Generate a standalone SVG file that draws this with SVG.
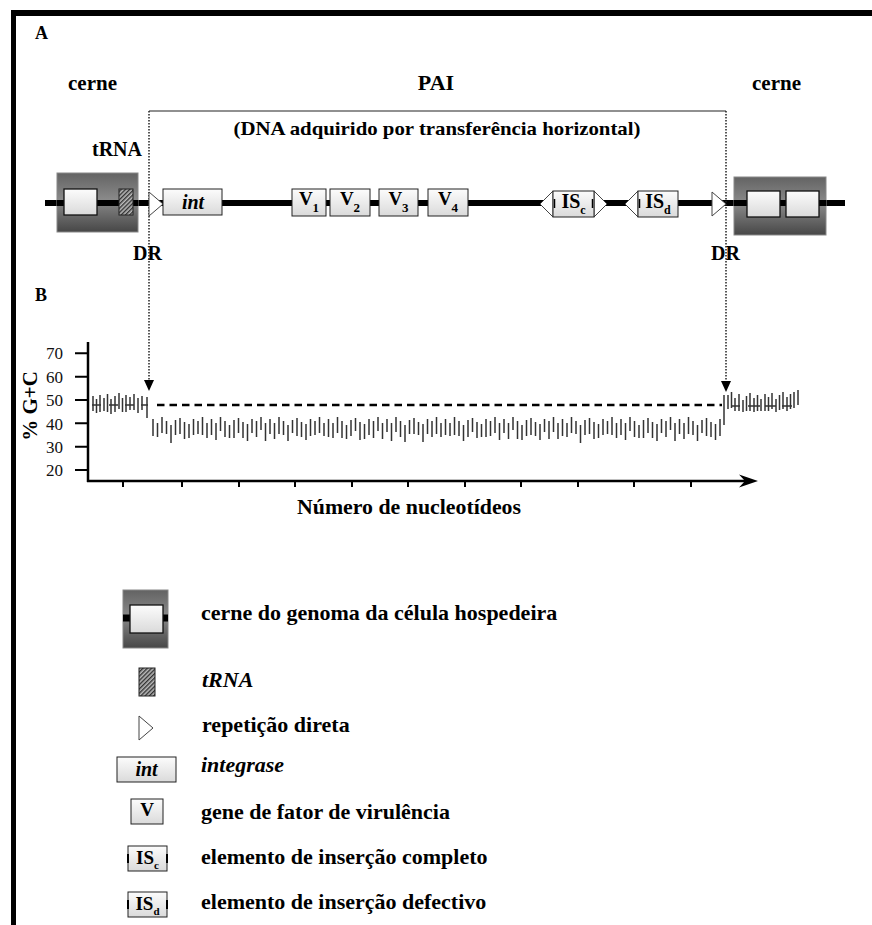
<svg xmlns="http://www.w3.org/2000/svg" width="872" height="925" viewBox="0 0 872 925">
<defs>
<linearGradient id="gHost" x1="0" y1="0" x2="0" y2="1">
<stop offset="0" stop-color="#636363"/><stop offset="0.45" stop-color="#8a8a8a"/><stop offset="1" stop-color="#474747"/>
</linearGradient>
<linearGradient id="gGene" x1="0" y1="0" x2="0" y2="1">
<stop offset="0" stop-color="#fcfcfc"/><stop offset="1" stop-color="#dadada"/>
</linearGradient>
<pattern id="hatch" width="3" height="3" patternUnits="userSpaceOnUse" patternTransform="rotate(45)">
<rect width="3" height="3" fill="#bbb"/><rect width="1.4" height="3" fill="#333"/>
</pattern>
<style>
.t{font-family:"Liberation Serif","Times New Roman",serif;font-weight:bold;fill:#000}
.n{font-family:"Liberation Serif","Times New Roman",serif;font-weight:normal;fill:#111}
.host{fill:url(#gHost);stroke:#888;stroke-width:1}
.inner{fill:url(#gGene);stroke:#111;stroke-width:1.3}
.gene{fill:url(#gGene);stroke:#222;stroke-width:1}
.tri{fill:#fff;stroke:#444;stroke-width:1}
.trna{fill:url(#hatch);stroke:#222;stroke-width:1}
.dot{fill:none;stroke:#222;stroke-width:1.5;stroke-dasharray:1.5 1.5}
.dna{stroke:#000;stroke-width:6}
</style>
</defs>
<rect width="872" height="925" fill="#fff"/>
<rect x="11" y="10" width="861" height="6" fill="#000"/>
<rect x="11" y="10" width="5" height="915" fill="#000"/>

<text class="t" x="35" y="39" font-size="18">A</text>
<text class="t" x="68" y="90" font-size="21">cerne</text>
<text class="t" x="436" y="90" font-size="22" text-anchor="middle">PAI</text>
<text class="t" x="752" y="90" font-size="21">cerne</text>
<text class="t" x="437" y="135" font-size="19" text-anchor="middle" textLength="407" lengthAdjust="spacingAndGlyphs">(DNA adquirido por transferência horizontal)</text>
<text class="t" x="92" y="156" font-size="20">tRNA</text>
<text class="t" x="133" y="260" font-size="20">DR</text>
<text class="t" x="711" y="260" font-size="20">DR</text>

<g id="connectors">
<line class="dna" x1="45" y1="203" x2="845" y2="203"/>
<polyline points="149,111 726,111" fill="none" stroke="#222" stroke-width="1.2"/>
<line class="dot" x1="149" y1="111" x2="149" y2="382"/>
<line class="dot" x1="726" y1="111" x2="726" y2="382"/>
<polygon points="144,380 154,380 149,391" fill="#000"/>
<polygon points="721,381 731,381 726,392" fill="#000"/>
</g>

<g id="host-left">
<rect class="host" x="57" y="173" width="81" height="59"/>
<line class="dna" x1="57" y1="203" x2="138" y2="203"/>
<rect class="inner" x="64" y="189" width="33" height="26"/>
<rect class="trna" x="119" y="189" width="14" height="26"/>
</g>
<g id="dr-left"><polygon class="tri" points="149,192 163,204 149,216"/></g>
<g id="int">
<rect class="gene" x="163" y="189" width="59" height="26"/>
<text class="t" x="193" y="209" font-size="20" font-style="italic" text-anchor="middle">int</text>
</g>
<g id="v1"><rect class="gene" x="292" y="189" width="34" height="27"/><text class="t" x="309" y="205" font-size="19" text-anchor="middle">V<tspan font-size="13" dy="7">1</tspan></text></g>
<g id="v2"><rect class="gene" x="330" y="189" width="40" height="27"/><text class="t" x="350" y="205" font-size="19" text-anchor="middle">V<tspan font-size="13" dy="7">2</tspan></text></g>
<g id="v3"><rect class="gene" x="379" y="189" width="39" height="27"/><text class="t" x="398.5" y="205" font-size="19" text-anchor="middle">V<tspan font-size="13" dy="7">3</tspan></text></g>
<g id="v4"><rect class="gene" x="428" y="189" width="40" height="27"/><text class="t" x="448" y="205" font-size="19" text-anchor="middle">V<tspan font-size="13" dy="7">4</tspan></text></g>
<g id="isc">
<polygon class="tri" points="540,204 553,191 553,217"/>
<polygon class="tri" points="594,191 607,204 594,217"/>
<rect class="gene" x="553" y="191" width="41" height="26"/>
<line x1="554.5" y1="199" x2="554.5" y2="208" stroke="#000" stroke-width="1.5"/>
<line x1="592.5" y1="199" x2="592.5" y2="208" stroke="#000" stroke-width="1.5"/>
<text class="t" x="573.5" y="208" font-size="20" text-anchor="middle">IS<tspan font-size="12" dy="6">c</tspan></text>
</g>
<g id="isd">
<polygon class="tri" points="625,204 638,191 638,217"/>
<rect class="gene" x="638" y="191" width="40" height="26"/>
<line x1="639.5" y1="199" x2="639.5" y2="208" stroke="#000" stroke-width="1.5"/>
<text class="t" x="658" y="208" font-size="20" text-anchor="middle">IS<tspan font-size="12" dy="6">d</tspan></text>
</g>
<g id="dr-right"><polygon class="tri" points="712,192 726,204 712,216"/></g>
<g id="host-right">
<rect class="host" x="734" y="177" width="92" height="58"/>
<line class="dna" x1="734" y1="203" x2="826" y2="203"/>
<rect class="inner" x="747" y="191" width="33" height="26"/>
<rect class="inner" x="786" y="191" width="33" height="26"/>
</g>

<text class="t" x="35" y="301" font-size="18">B</text>

<g id="plot">
<text class="t" transform="translate(37,406) rotate(-90)" font-size="21" text-anchor="middle">% G+C</text>
<g class="n" font-size="17" text-anchor="end">
<text x="63" y="359">70</text><text x="63" y="382.5">60</text><text x="63" y="406">50</text>
<text x="63" y="429.5">40</text><text x="63" y="453">30</text><text x="63" y="476">20</text>
</g>
<path d="M75 353.3H88M75 376.7H88M75 400H88M75 423.3H88M75 446.7H88M75 470H88" stroke="#000" stroke-width="2"/>
<path d="M88 342V482M87 481H748" stroke="#000" stroke-width="2.5" fill="none"/>
<polygon points="758,481 739,474.5 745,481 739,487.5" fill="#000"/>
<path d="M123 481v6M182 481v6M239 481v6M295 481v6M352 481v6M408 481v6M465 481v6M521 481v6M578 481v6M634 481v6M691 481v6" stroke="#000" stroke-width="2"/>
<line x1="157" y1="405" x2="722" y2="405" stroke="#000" stroke-width="2.5" stroke-dasharray="7.5 5"/>
<path fill="none" stroke="#333" stroke-width="1.5" d="M93 396v15M96.5 399v14M100 395v17M104 398v13M107.5 394v18M111 399v15M115 396v16M119 393v16M122.5 398v14M126 395v17M130 397v13M134 394v16M138 398v15M142 396v14M147 397v21M92 405h9M109 405h9M125 405h9M141 405h7"/>
<path fill="none" stroke="#333" stroke-width="1.5" d="M153 419v17M157.5 423v14M162 417v16M166.5 421v13M171 425v18M175.5 420v15M180 418v16M184.5 422v17M189 424v14M193.5 419v16M198 421v13M202.5 417v18M207 423v15M211.5 419v16M216 423v17M220.5 417v14M225 421v16M229.5 425v13M234 420v18M238.5 418v15M243 422v16M247.5 424v17M252 419v14M256.5 421v16M261 417v13M265.5 423v18M270 419v15M274.5 423v16M279 417v17M283.5 421v14M288 425v16M292.5 420v13M297 418v18M301.5 422v15M306 424v16M310.5 419v17M315 421v14M319.5 417v16M324 423v13M328.5 419v18M333 423v15M337.5 417v16M342 421v17M346.5 425v14M351 420v16M355.5 418v13M360 422v18M364.5 424v15M369 419v16M373.5 421v17M378 417v14M382.5 423v16M387 419v13M391.5 423v18M396 417v15M400.5 421v16M405 425v17M409.5 420v14M414 418v16M418.5 422v13M423 424v18M427.5 419v15M432 421v16M436.5 417v17M441 423v14M445.5 419v16M450 423v13M454.5 417v18M459 421v15M463.5 425v16M468 420v17M472.5 418v14M477 422v16M481.5 424v13M486 419v18M490.5 421v15M495 417v16M499.5 423v17M504 419v14M508.5 423v16M513 417v13M517.5 421v18M522 425v15M526.5 420v16M531 418v17M535.5 422v14M540 424v16M544.5 419v13M549 421v18M553.5 417v15M558 423v16M562.5 419v17M567 423v14M571.5 417v16M576 421v13M580.5 425v18M585 420v15M589.5 418v16M594 422v17M598.5 424v14M603 419v16M607.5 421v13M612 417v18M616.5 423v15M621 419v16M625.5 423v17M630 417v14M634.5 421v16M639 425v13M643.5 420v18M648 418v15M652.5 422v16M657 424v17M661.5 419v14M666 421v16M670.5 417v13M675 423v18M679.5 419v15M684 423v16M688.5 417v17M693 421v14M697.5 425v16M702 420v13M706.5 418v18M711 422v15M715.5 424v16M720 419v17"/>
<path fill="none" stroke="#333" stroke-width="1.5" d="M724 395v30M728 395v14M731.5 392v16M735 398v13M739 394v17M743 400v12M746.5 396v15M750 393v18M754 398v14M757.5 395v16M761 399v12M765 394v17M768.5 397v14M772 393v16M776 399v13M779.5 395v15M783 392v17M787 397v14M790.5 394v15M794 392v16M798 390v15M731 406h9M748 406h12M765 406h11M782 406h10"/>
<text class="t" x="409" y="514" font-size="22" text-anchor="middle" textLength="224" lengthAdjust="spacingAndGlyphs">Número de nucleotídeos</text>
</g>

<g id="legend-host">
<rect class="host" x="123" y="590" width="45" height="58"/>
<line x1="123" y1="618" x2="168" y2="618" stroke="#000" stroke-width="7"/>
<rect class="inner" x="130" y="605" width="33" height="28"/>
<text class="t" x="201" y="620" font-size="22">cerne do genoma da célula hospedeira</text>
</g>
<g id="legend-trna">
<rect class="trna" x="139" y="668" width="16" height="28"/>
<text class="t" x="202" y="687" font-size="22" font-style="italic">tRNA</text>
</g>
<g id="legend-dr">
<polygon class="tri" points="139,716 153,728 139,740"/>
<text class="t" x="202" y="732" font-size="22">repetição direta</text>
</g>
<g id="legend-int">
<rect class="gene" x="117" y="757" width="59" height="25"/>
<text class="t" x="146.5" y="776" font-size="20" font-style="italic" text-anchor="middle">int</text>
<text class="t" x="201" y="772" font-size="22" font-style="italic">integrase</text>
</g>
<g id="legend-v">
<rect class="gene" x="131" y="799" width="32" height="25"/>
<text class="t" x="147" y="816" font-size="19" text-anchor="middle">V</text>
<text class="t" x="201" y="819" font-size="22">gene de fator de virulência</text>
</g>
<g id="legend-isc">
<rect class="gene" x="128" y="846" width="39" height="25"/>
<path d="M128 854v9M167 854v9" stroke="#000" stroke-width="2"/>
<text class="t" x="147.5" y="864" font-size="19" text-anchor="middle">IS<tspan font-size="11" dy="5">c</tspan></text>
<text class="t" x="201" y="864" font-size="22">elemento de inserção completo</text>
</g>
<g id="legend-isd">
<rect class="gene" x="128" y="892" width="39" height="25"/>
<path d="M128 900v9M167 900v9" stroke="#000" stroke-width="2"/>
<text class="t" x="147.5" y="910" font-size="19" text-anchor="middle">IS<tspan font-size="11" dy="5">d</tspan></text>
<text class="t" x="201" y="909" font-size="22">elemento de inserção defectivo</text>
</g>
</svg>
